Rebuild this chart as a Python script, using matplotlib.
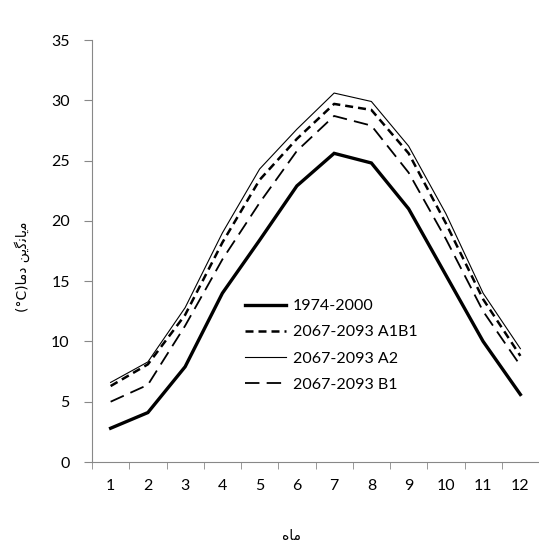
import matplotlib
matplotlib.use("Agg")
from matplotlib import pyplot as plt
import numpy as np

months = [1, 2, 3, 4, 5, 6, 7, 8, 9, 10, 11, 12]
base_1974_2000 = [2.8, 4.1, 7.9, 14.0, 18.4, 22.9, 25.6, 24.8, 21.0, 15.5, 10.0, 5.6]
a1b1_2067_2093 = [6.3, 8.1, 12.2, 18.2, 23.4, 26.8, 29.7, 29.2, 25.6, 19.8, 13.5, 8.8]
a2_2067_2093 = [6.6, 8.3, 12.8, 19.0, 24.3, 27.6, 30.6, 29.9, 26.2, 20.6, 14.0, 9.4]
b1_2067_2093 = [5.0, 6.4, 11.3, 16.8, 21.5, 25.8, 28.7, 27.9, 24.0, 18.5, 12.5, 8.0]
series_labels = ["1974-2000", "2067-2093 A1B1", "2067-2093 A2", "2067-2093 B1"]

# persian text, pre-shaped and in visual order (matplotlib has no bidi)
ylabel_fa = "(°C)" + "\uFE8E\uFEE3\uFEA9" + " " + "\uFEE6\uFBFE\uFB94\uFEE7\uFE8E\uFBFE\uFEE3"
xlabel_fa = "\uFEE9\uFE8E\uFEE3"

plt.rcParams['font.family'] = ['Lato', 'DejaVu Sans']

fig = plt.figure(figsize=(5.39, 5.48), dpi=100)
ax = fig.add_axes([92/539, 86/548, 447/539, 422/548])

ax.plot(months, base_1974_2000, color='black', lw=2.4, solid_joinstyle='miter', label=series_labels[0])
ax.plot(months, a1b1_2067_2093, color='black', lw=1.8, dashes=(3.2, 2.0), label=series_labels[1])
ax.plot(months, a2_2067_2093, color='black', lw=0.8, label=series_labels[2])
ax.plot(months, b1_2067_2093, color='black', lw=1.3, dashes=(8, 4), label=series_labels[3])

ax.set_xlim(0.5, 12.5)
ax.set_ylim(0, 35)
ax.set_yticks(np.arange(0, 36, 5))
ax.set_xticks(months)
ax.set_xticks(np.arange(0.5, 12.6, 1), minor=True)
ax.tick_params(axis='x', which='major', length=0, pad=12, labelsize=11.5)
ax.tick_params(axis='x', which='minor', length=5, color='#888888', direction='out')
ax.tick_params(axis='y', length=6, color='#888888', pad=10, labelsize=11.5)

for side in ['top', 'right']:
    ax.spines[side].set_visible(False)
for side in ['left', 'bottom']:
    ax.spines[side].set_color('#888888')

ax.set_ylabel(ylabel_fa, fontsize=10, family=['DejaVu Sans'])
ax.yaxis.set_label_coords(-0.139, 0.462)
ax.set_xlabel(xlabel_fa, fontsize=10, family=['DejaVu Sans'])
ax.xaxis.set_label_coords(0.447, -0.158)

ax.legend(loc='upper left', bbox_to_anchor=(0.31, 0.42), frameon=False,
          fontsize=11.5, handlelength=2.6, handletextpad=0.4, labelspacing=0.75)

fig.savefig("out.png", dpi=100)
